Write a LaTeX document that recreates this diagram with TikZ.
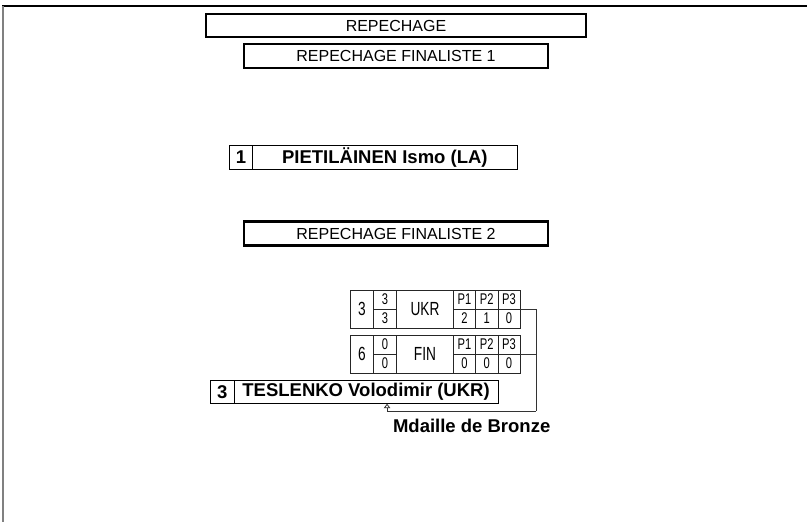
\documentclass[tikz,border=0pt]{standalone}
\usepackage{fontspec}
\setmainfont{Liberation Sans}
\newfontfamily\narrowfont[FakeStretch=0.72]{Liberation Sans}
\usetikzlibrary{positioning}
\usetikzlibrary{arrows.meta}
\tikzset{
    headbox/.style = {rectangle, draw=black, line width=2.6pt, outer sep=0pt, inner sep=0pt, minimum width=380pt, minimum height=23pt, font=\fontsize{16}{16}\selectfont},
    finbox/.style = {headbox, minimum width=304pt, minimum height=24pt},
    namecell/.style = {rectangle, draw=black, line width=0.9pt, outer sep=0pt, inner sep=0pt, minimum height=23.4pt, font=\bfseries\fontsize{18.5}{18.5}\selectfont},
    cell/.style = {rectangle, draw=black!85, line width=0.8pt, outer sep=0pt, inner sep=0pt, minimum height=38pt, font=\fontsize{19}{19}\narrowfont},
    halfcell/.style = {cell, minimum height=19pt, font=\fontsize{15.5}{15.5}\narrowfont},
    link/.style = {line width=0.8pt, draw=black!80},
    medal/.style = {link, -{Triangle[open,length=4.5pt,width=6.5pt]}}, % arrow up to winner
    bronzetext/.style = {font=\bfseries\fontsize{18.5}{18.5}\selectfont}
}

\begin{document}
\begin{tikzpicture}[x=1pt,y=-1pt]
\useasboundingbox (0,0) rectangle (807,522);
% page frame
\draw[line width=1.8pt] (2,6) -- (807,6);
\draw[line width=1.8pt,gray] (2.6,6) -- (2.6,522);
%
\node[headbox] at (396, 25.5) (rep) {REPECHAGE};
\node[finbox] at (396, 56) (fin1) {REPECHAGE FINALISTE 1};
\node[finbox] at (396, 233.5) (fin2) {REPECHAGE FINALISTE 2};
%
\node[namecell,minimum width=23.2pt] at (241.1, 157.5) (n1) {1};
\node[namecell,minimum width=264.3pt,right=0pt of n1] (pietilainen) {PIETILÄINEN Ismo (LA)};
% UKR row
\node[cell,minimum width=22.6pt] at (362, 309) (u0) {3};
\node[halfcell,minimum width=23.4pt,anchor=north west] at (u0.north east) (u1) {3};
\node[halfcell,minimum width=23.4pt,below=0pt of u1] (u2) {3};
\node[cell,minimum width=56.6pt,anchor=north west] at (u1.north east) (ukr) {UKR};
\node[halfcell,minimum width=22.3pt,anchor=north west] at (ukr.north east) (up1) {P1};
\node[halfcell,minimum width=22.3pt,right=0pt of up1] (up2) {P2};
\node[halfcell,minimum width=22.3pt,right=0pt of up2] (up3) {P3};
\node[halfcell,minimum width=22.3pt,below=0pt of up1] (us1) {2};
\node[halfcell,minimum width=22.3pt,below=0pt of up2] (us2) {1};
\node[halfcell,minimum width=22.3pt,below=0pt of up3] (us3) {0};
% FIN row
\node[cell,minimum width=22.6pt] at (362, 354) (f0) {6};
\node[halfcell,minimum width=23.4pt,anchor=north west] at (f0.north east) (f1) {0};
\node[halfcell,minimum width=23.4pt,below=0pt of f1] (f2) {0};
\node[cell,minimum width=56.6pt,anchor=north west] at (f1.north east) (fin) {FIN};
\node[halfcell,minimum width=22.3pt,anchor=north west] at (fin.north east) (fp1) {P1};
\node[halfcell,minimum width=22.3pt,right=0pt of fp1] (fp2) {P2};
\node[halfcell,minimum width=22.3pt,right=0pt of fp2] (fp3) {P3};
\node[halfcell,minimum width=22.3pt,below=0pt of fp1] (fs1) {0};
\node[halfcell,minimum width=22.3pt,below=0pt of fp2] (fs2) {0};
\node[halfcell,minimum width=22.3pt,below=0pt of fp3] (fs3) {0};
%
\node[namecell,minimum width=23.7pt] at (222.3, 392) (n3) {3};
\node[namecell,minimum width=263.8pt,right=0pt of n3] (teslenko) {TESLENKO Volodimir (UKR)};
\node[bronzetext] at (471.7, 426) (bronze) {Mdaille de Bronze};
%
\coordinate (bend) at (536, 411);
\draw[link] (up3.south east) -| (bend);
\draw[link] (fp3.south east) -- (fp3.south east -| bend);
\draw[medal] (bend) -| ([xshift=21pt]teslenko.south);

\end{tikzpicture}
\end{document}
